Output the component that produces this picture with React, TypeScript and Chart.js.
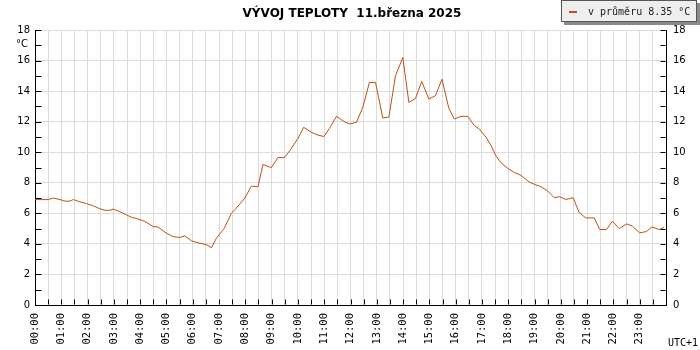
import React, { useEffect, useRef } from "react";
import { Chart, registerables } from "chart.js";

Chart.register(...registerables);

// Time of each reading in hours after midnight (UTC+1)
const hours: number[] = [
  0, 0.5, 0.7, 0.95, 1.14, 1.33, 1.46, 1.71, 1.96, 2.2, 2.47, 2.66, 2.85, 2.97,
  3.23, 3.48, 3.67, 3.92, 4.18, 4.49, 4.68, 5.0, 5.25, 5.5, 5.7, 5.95, 6.27,
  6.52, 6.71, 6.9, 7.2, 7.47, 7.66, 7.98, 8.23, 8.48, 8.67, 8.99, 9.24, 9.49,
  9.75, 10.0, 10.22, 10.51, 10.76, 10.99, 11.2, 11.47, 11.71, 11.96, 12.23,
  12.47, 12.72, 12.95, 13.23, 13.46, 13.71, 13.99, 14.22, 14.47, 14.71, 14.98,
  15.23, 15.48, 15.74, 15.95, 16.2, 16.46, 16.71, 16.9, 17.16, 17.35, 17.53,
  17.72, 17.98, 18.23, 18.48, 18.8, 18.99, 19.24, 19.5, 19.75, 19.94, 20.19,
  20.47, 20.7, 20.95, 21.27, 21.48, 21.74, 21.96, 22.22, 22.5, 22.72, 23.0,
  23.26, 23.46, 23.74, 23.93,
];

// Temperature in °C
const temps: number[] = [
  6.9, 6.9, 7.0, 6.9, 6.8, 6.8, 6.9, 6.75, 6.64, 6.5, 6.3, 6.2, 6.2, 6.28,
  6.1, 5.9, 5.74, 5.63, 5.47, 5.14, 5.1, 4.7, 4.48, 4.42, 4.53, 4.2, 4.04,
  3.95, 3.75, 4.37, 5.03, 6.0, 6.35, 7.0, 7.78, 7.74, 9.2, 8.99, 9.65, 9.65,
  10.24, 10.9, 11.63, 11.3, 11.12, 11.03, 11.56, 12.35, 12.05, 11.85, 11.96,
  12.95, 14.57, 14.57, 12.24, 12.3, 15.0, 16.2, 13.26, 13.52, 14.63, 13.48,
  13.7, 14.78, 12.87, 12.17, 12.35, 12.35, 11.74, 11.52, 10.97, 10.42, 9.76,
  9.32, 8.95, 8.67, 8.49, 8.05, 7.9, 7.75, 7.46, 7.02, 7.09, 6.91,
  7.02, 6.04, 5.7, 5.7, 4.94, 4.94, 5.49, 5.0, 5.31, 5.16, 4.72,
  4.81, 5.11, 4.94, 5.09,
];

const titleText = "VÝVOJ TEPLOTY  11.března 2025";
const legendText = "v průměru 8.35 °C";
const unitText = "°C";
const zoneText = "UTC+1";
const yMin = 0;
const yMax = 18;
const xMin = 0;
const xMax = 24;

const LINE_COLOR = "#c24e14";

const decorPlugin = {
  id: "decor",
  afterDraw(chart: any) {
    const ctx = chart.ctx as CanvasRenderingContext2D;
    const y = chart.scales.y;
    const x = chart.scales.x;
    const area = chart.chartArea;
    ctx.save();
    ctx.strokeStyle = "#000";
    ctx.lineWidth = 1;
    // inner ticks on y axes (every 1 unit)
    ctx.beginPath();
    for (let v = yMin; v <= yMax; v += 1) {
      const py = Math.round(y.getPixelForValue(v)) + 0.5;
      const lx = Math.round(area.left) + 0.5;
      const rx = Math.round(area.right) - 0.5;
      ctx.moveTo(lx, py);
      ctx.lineTo(lx + 6, py);
      ctx.moveTo(rx, py);
      ctx.lineTo(rx - 5, py);
    }
    // inner ticks on x axis (every half hour)
    for (let h = xMin; h <= xMax; h += 0.5) {
      const px = Math.round(x.getPixelForValue(h)) + 0.5;
      const by = Math.round(area.bottom) - 0.5;
      ctx.moveTo(px, by);
      ctx.lineTo(px, by - 5);
    }
    ctx.stroke();

    // title
    ctx.fillStyle = "#000";
    ctx.font = 'bold 12px "DejaVu Sans"';
    ctx.textAlign = "center";
    ctx.textBaseline = "alphabetic";
    ctx.fillText(titleText, 352, 17);

    // unit label
    ctx.font = '10px "DejaVu Sans"';
    ctx.textAlign = "right";
    ctx.textBaseline = "middle";
    ctx.fillText(unitText, 28, 44);

    // time zone
    ctx.font = '10px "DejaVu Sans Mono"';
    ctx.textAlign = "left";
    ctx.textBaseline = "alphabetic";
    ctx.fillText(zoneText, 668, 346);

    // legend box
    ctx.fillStyle = "#8a8a8a";
    ctx.fillRect(564, 3, 136, 22);
    ctx.fillStyle = "#eeeeee";
    ctx.fillRect(561, 0, 136, 22);
    ctx.strokeStyle = "#555";
    ctx.strokeRect(561.5, 0.5, 135, 21);
    ctx.strokeStyle = LINE_COLOR;
    ctx.lineWidth = 2;
    ctx.beginPath();
    ctx.moveTo(569, 12);
    ctx.lineTo(577, 12);
    ctx.stroke();
    ctx.fillStyle = "#222";
    ctx.font = '10px "DejaVu Sans Mono"';
    ctx.textAlign = "left";
    ctx.textBaseline = "alphabetic";
    ctx.fillText(legendText, 588, 15);
    ctx.restore();
  },
};

function hourLabel(v: number): string {
  if (!Number.isInteger(v) || v >= xMax) return "";
  return (v < 10 ? "0" : "") + v + ":00";
}

export default function App() {
  const ref = useRef<HTMLCanvasElement | null>(null);
  useEffect(() => {
    if (!ref.current) return;
    const points = hours.map((h, i) => ({ x: h, y: temps[i] }));
    const chart = new Chart(ref.current, {
      type: "line",
      data: {
        datasets: [
          {
            label: legendText,
            data: points,
            borderColor: LINE_COLOR,
            borderWidth: 1,
            pointRadius: 0,
            tension: 0,
            fill: false,
            yAxisID: "y",
          },
        ],
      },
      options: {
        responsive: false,
        animation: false,
        events: [],
        layout: { padding: { top: 30, left: 0, right: 0, bottom: 0 } },
        plugins: {
          legend: { display: false },
          title: { display: false },
          tooltip: { enabled: false },
        },
        scales: {
          x: {
            type: "linear",
            min: xMin,
            max: xMax,
            afterFit: (s: any) => {
              s.height = 45;
            },
            border: { display: true, color: "#000", width: 1 },
            grid: { color: "#dcdcdc", drawTicks: false, lineWidth: 1 },
            ticks: {
              stepSize: 0.5,
              autoSkip: false,
              minRotation: 90,
              maxRotation: 90,
              padding: 8,
              color: "#000",
              font: { family: "DejaVu Sans Mono", size: 10.5 },
              callback: (v: any) => hourLabel(Number(v)),
            },
          },
          y: {
            position: "left",
            min: yMin,
            max: yMax,
            afterFit: (s: any) => {
              s.width = 35;
            },
            border: { display: true, color: "#000", width: 1 },
            grid: { color: "#dcdcdc", drawTicks: false, lineWidth: 1 },
            ticks: {
              stepSize: 2,
              padding: 5,
              color: "#000",
              font: { family: "DejaVu Sans", size: 10 },
            },
          },
          y2: {
            position: "right",
            min: yMin,
            max: yMax,
            afterFit: (s: any) => {
              s.width = 34;
            },
            border: { display: true, color: "#000", width: 1 },
            grid: { display: false, drawTicks: false },
            ticks: {
              stepSize: 2,
              padding: 7,
              color: "#000",
              font: { family: "DejaVu Sans", size: 10 },
            },
          },
        },
      },
      plugins: [decorPlugin],
    });
    return () => chart.destroy();
  }, []);
  return (
    <div style={{ position: "fixed", left: 0, top: 0, width: 700, height: 350, background: "#fff" }}>
      <canvas ref={ref} width={700} height={350} style={{ display: "block" }} />
    </div>
  );
}
